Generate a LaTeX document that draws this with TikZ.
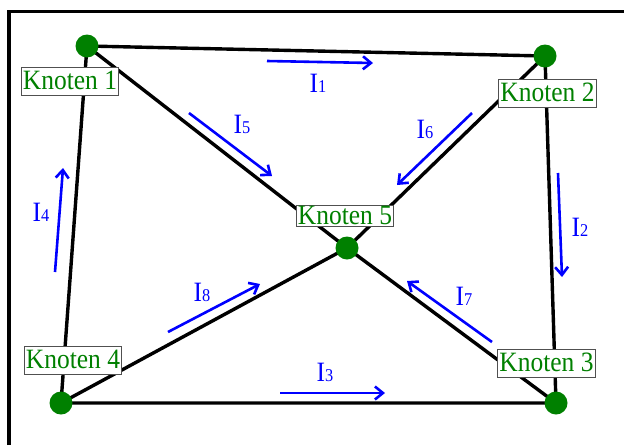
\documentclass[tikz,border=0pt]{standalone}
\usepackage{fontspec}
\setmainfont{Liberation Serif}
\newfontfamily\kfont[FakeStretch=0.91]{Liberation Serif}
\usetikzlibrary{arrows.meta,backgrounds}
\definecolor{kgreen}{RGB}{0,128,0}
\definecolor{kblue}{RGB}{0,0,255}
\definecolor{kgray}{RGB}{80,80,80}
\newcommand\Ilab[1]{I{\fontsize{18}{18}\selectfont #1}}
\tikzset{
  knot/.style={circle, fill=kgreen, draw=none, minimum size=23pt, inner sep=0pt},
  edge/.style={line width=3.4pt, black},
  lbl/.style={draw=kgray, line width=0.9pt, fill=white, text=kgreen,
    font=\kfont\fontsize{28}{28}\selectfont, inner xsep=1.5pt, inner ysep=3.5pt, text height=19pt, text depth=2pt},
  cur/.style={line width=2.6pt, draw=kblue, -{Straight Barb[length=8pt,width=13pt,line width=2.6pt]}},
  clbl/.style={text=kblue, font=\kfont\fontsize{28}{28}\selectfont, inner sep=0pt}
}
\begin{document}
\begin{tikzpicture}[x=1pt,y=-1pt]
\useasboundingbox (0,0) rectangle (624,445);
% nodes
\node[knot] (n1) at (87,46) {};
\node[knot] (n2) at (545,56) {};
\node[knot] (n3) at (556,403) {};
\node[knot] (n4) at (61,403) {};
\node[knot] (n5) at (347,248) {};
% background + edges
\begin{scope}[on background layer]
\fill[white] (0,0) rectangle (624,445);
\draw[line width=3.5pt] (9,445) -- (9,11.5) -- (624,11.5);
\draw[edge] (n1.center) -- (n2.center) -- (n3.center) -- (n4.center) -- (n1.center);
\draw[edge] (n1.center) -- (n5.center) -- (n3.center);
\draw[edge] (n2.center) -- (n5.center) -- (n4.center);
\end{scope}
% labels
\node[lbl] (k1) at (70,81) {Knoten 1};
\node[lbl] (k2) at (547.5,93) {Knoten 2};
\node[lbl] (k3) at (546.5,363) {Knoten 3};
\node[lbl] (k4) at (73,360) {Knoten 4};
\node[lbl, inner ysep=1pt, text height=18pt, text depth=1pt] (k5) at (345,215.5) {Knoten 5};
% currents
\coordinate (a1s) at (267,61); \coordinate (a1e) at (373,63);
\coordinate (a2s) at (558,173); \coordinate (a2e) at (562,277);
\coordinate (a3s) at (280,393); \coordinate (a3e) at (385,393);
\coordinate (a4s) at (55,272); \coordinate (a4e) at (63,168);
\coordinate (a5s) at (189,113); \coordinate (a5e) at (272,176);
\coordinate (a6s) at (472,113); \coordinate (a6e) at (397,185);
\coordinate (a7s) at (492,342); \coordinate (a7e) at (407,281);
\coordinate (a8s) at (168,332); \coordinate (a8e) at (260,284);
\draw[cur] (a1s) -- (a1e);
\draw[cur] (a2s) -- (a2e);
\draw[cur] (a3s) -- (a3e);
\draw[cur] (a4s) -- (a4e);
\draw[cur] (a5s) -- (a5e);
\draw[cur] (a6s) -- (a6e);
\draw[cur] (a7s) -- (a7e);
\draw[cur] (a8s) -- (a8e);
\node[clbl] (l1) at (318,83) {\Ilab{1}};
\node[clbl] (l2) at (580,227) {\Ilab{2}};
\node[clbl] (l3) at (325,372) {\Ilab{3}};
\node[clbl] (l4) at (41,212) {\Ilab{4}};
\node[clbl] (l5) at (242,124) {\Ilab{5}};
\node[clbl] (l6) at (425,129) {\Ilab{6}};
\node[clbl] (l7) at (464,296) {\Ilab{7}};
\node[clbl] (l8) at (202,292) {\Ilab{8}};
\end{tikzpicture}
\end{document}
